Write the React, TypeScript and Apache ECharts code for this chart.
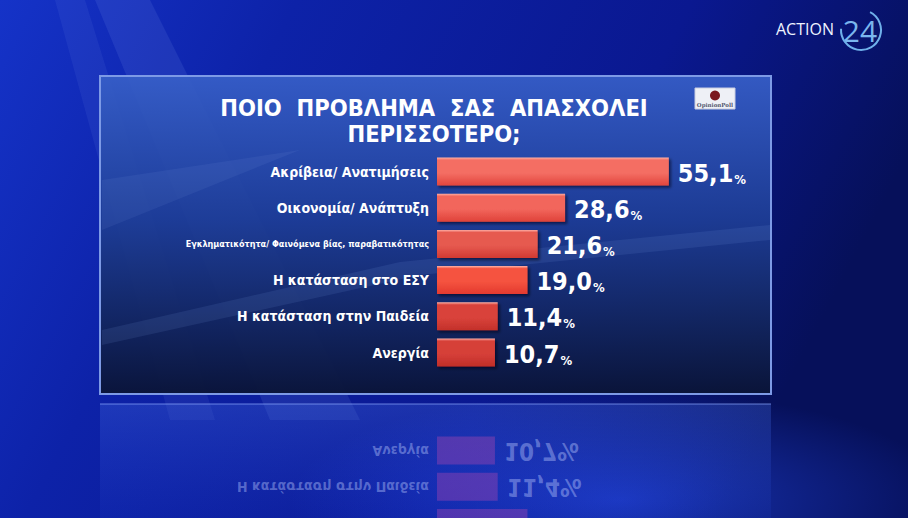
import React, { useEffect, useRef } from "react";
import * as echarts from "echarts";

// ---- data ----
const categories = [
  "Ακρίβεια/ Ανατιμήσεις",
  "Οικονομία/ Ανάπτυξη",
  "Εγκληματικότητα/ Φαινόμενα βίας, παραβατικότητας",
  "Η κατάσταση στο ΕΣΥ",
  "Η κατάσταση στην Παιδεία",
  "Ανεργία",
];
const values = [55.1, 28.6, 21.6, 19.0, 11.4, 10.7];
const titleLines = ["ΠΟΙΟ  ΠΡΟΒΛΗΜΑ  ΣΑΣ  ΑΠΑΣΧΟΛΕΙ", "ΠΕΡΙΣΣΟΤΕΡΟ;"];
const logoWords = ["ACTION", "24"];
const pollster = "OpinionPoll";

// ---- styles ----
const FF = "'DejaVu Sans Condensed', 'DejaVu Sans', sans-serif";
const barTopColors = ["#f46e64", "#f2665c", "#e65a50", "#f5533f", "#d9433b", "#d63f39"];
const barBottomColors = ["#e2463d", "#df4239", "#d23a32", "#e33a2f", "#c3302a", "#c02e28"];
const axisStart = -4.1;
const axisEnd = 60;
const barH = 28;
const mirrorY = 401.5;
const pageH = 518;

const fmt = (v: number) => v.toFixed(1).replace(".", ",");

function buildOption(): any {
  const barData = values.map((v, i) => ({
    value: v,
    itemStyle: {
      color: new echarts.graphic.LinearGradient(0, 0, 0, 1, [
        { offset: 0, color: "#ffb0a6" },
        { offset: 0.09, color: barTopColors[i] },
        { offset: 0.55, color: barTopColors[i] },
        { offset: 1, color: barBottomColors[i] },
      ]),
      shadowColor: "rgba(0,0,20,0.6)",
      shadowBlur: 3,
      shadowOffsetX: 2,
      shadowOffsetY: 2,
    },
  }));

  const graphic: any[] = [
    // light rays in the background (upper left)
    {
      type: "polygon",
      z: 0,
      shape: { points: [[95, 0], [150, 0], [360, 420], [270, 420]] },
      style: { fill: "rgba(170,200,255,0.10)" },
    },
    {
      type: "polygon",
      z: 0,
      shape: { points: [[55, 0], [85, 0], [215, 420], [170, 420]] },
      style: { fill: "rgba(170,200,255,0.07)" },
    },
    // bright glow low in the background
    {
      type: "ellipse",
      z: 0,
      shape: { cx: 620, cy: 500, rx: 330, ry: 110 },
      style: {
        fill: new echarts.graphic.RadialGradient(0.5, 0.5, 0.5, [
          { offset: 0, color: "rgba(40,80,255,0.55)" },
          { offset: 1, color: "rgba(40,80,255,0)" },
        ]),
      },
    },
    // main panel
    {
      type: "rect",
      z: 0,
      shape: { x: 100, y: 76, width: 671, height: 318 },
      style: {
        fill: new echarts.graphic.LinearGradient(0, 0, 0, 1, [
          { offset: 0, color: "rgba(55,95,200,0.92)" },
          { offset: 0.45, color: "rgba(30,62,150,0.92)" },
          { offset: 1, color: "rgba(10,20,55,0.96)" },
        ]),
        stroke: "#7d9ae6",
        lineWidth: 2,
      },
    },
    // swooshes on the panel
    {
      type: "polygon",
      z: 0,
      shape: { points: [[102, 330], [400, 262], [770, 225], [770, 240], [420, 275], [102, 345]] },
      style: { fill: "rgba(150,190,255,0.10)" },
    },
    {
      type: "polygon",
      z: 0,
      shape: { points: [[102, 180], [300, 150], [102, 230]] },
      style: { fill: "rgba(170,200,255,0.07)" },
    },
    // reflection of the panel
    {
      type: "rect",
      z: 0,
      shape: { x: 100, y: 404, width: 671, height: 114 },
      style: {
        fill: new echarts.graphic.LinearGradient(0, 0, 0, 1, [
          { offset: 0, color: "rgba(70,110,230,0.30)" },
          { offset: 1, color: "rgba(40,80,230,0.10)" },
        ]),
      },
    },
    {
      type: "line",
      z: 0,
      shape: { x1: 100, y1: 404, x2: 771, y2: 404 },
      style: { stroke: "rgba(140,170,255,0.35)", lineWidth: 2 },
    },
    // pollster logo
    {
      type: "rect",
      z: 10,
      shape: { x: 695, y: 88, width: 40, height: 21 },
      style: { fill: "#eef0f6", stroke: "#c8cde0", lineWidth: 1 },
    },
    {
      type: "circle",
      z: 11,
      shape: { cx: 715, cy: 95.5, r: 5 },
      style: { fill: "#7a1820" },
    },
    {
      type: "text",
      z: 11,
      x: 715,
      y: 105,
      style: {
        text: pollster,
        align: "center",
        verticalAlign: "middle",
        fill: "#555a70",
        font: "bold 5.5px 'DejaVu Serif', serif",
      },
    },
    // channel logo
    {
      type: "text",
      z: 10,
      x: 776,
      y: 29,
      style: {
        text: logoWords[0],
        align: "left",
        verticalAlign: "middle",
        fill: "#eef3ff",
        font: "16px 'Open Sans', 'DejaVu Sans', sans-serif",
      },
    },
    {
      type: "text",
      z: 10,
      x: 860,
      y: 30,
      style: {
        text: logoWords[1],
        align: "center",
        verticalAlign: "middle",
        fill: "#7ab6ee",
        font: "30px 'Open Sans', 'DejaVu Sans', sans-serif",
      },
    },
    {
      type: "arc",
      z: 10,
      shape: { cx: 861, cy: 30, r: 20, startAngle: -Math.PI * 0.35, endAngle: Math.PI * 1.02 },
      style: { stroke: "#6fb0ea", lineWidth: 2, fill: "none" },
    },
  ];

  return {
    animation: false,
    backgroundColor: new echarts.graphic.LinearGradient(0, 0, 1, 0.3, [
      { offset: 0, color: "#1533c8" },
      { offset: 0.3, color: "#0d22a8" },
      { offset: 0.7, color: "#0a1890" },
      { offset: 1, color: "#06105a" },
    ]),
    title: {
      text: titleLines.join("\n"),
      left: 429,
      top: 90,
      textAlign: "center",
      textStyle: {
        color: "#ffffff",
        fontFamily: FF,
        fontWeight: "bold",
        fontSize: 23.5,
        lineHeight: 26,
      },
    },
    graphic,
    grid: { left: 437, right: 220, top: 153.4, height: 217.2 },
    xAxis: {
      type: "value",
      min: axisStart,
      max: axisEnd,
      startValue: axisStart,
      show: false,
    },
    yAxis: {
      type: "category",
      inverse: true,
      data: categories,
      axisLine: { show: false },
      axisTick: { show: false },
      splitLine: { show: false },
      axisLabel: {
        margin: 8,
        color: "#ffffff",
        formatter: (v: string) => (v.length > 30 ? `{n|${v}}` : `{w|${v}}`),
        rich: {
          w: { fontFamily: FF, fontWeight: "bold", fontSize: 14, color: "#ffffff" },
          n: { fontFamily: FF, fontWeight: "bold", fontSize: 9, color: "#ffffff" },
        },
      },
    },
    series: [
      {
        type: "bar",
        data: barData,
        barWidth: barH,
        z: 3,
        label: {
          show: true,
          position: "right",
          distance: 9,
          formatter: (p: any) => `{v|${fmt(p.value)}}{p|%}`,
          rich: {
            v: {
              fontFamily: FF,
              fontWeight: "bold",
              fontSize: 25,
              color: "#ffffff",
              lineHeight: 28,
              verticalAlign: "bottom",
            },
            p: {
              fontFamily: FF,
              fontWeight: "bold",
              fontSize: 13,
              color: "#ffffff",
              lineHeight: 22,
              verticalAlign: "bottom",
              padding: [0, 0, 0, 1],
            },
          },
        },
      },
      {
        // reflection of the bars below the panel
        type: "custom",
        z: 1,
        silent: true,
        data: values.map((v, i) => [v, i]),
        encode: { x: 0, y: 1 },
        renderItem: (params: any, api: any) => {
          const idx = api.value(1);
          const v = api.value(0);
          const s = api.coord([axisStart, idx]);
          const e = api.coord([v, idx]);
          const my = 2 * mirrorY - s[1];
          if (my - barH / 2 >= pageH) return null;
          const children: any[] = [
            {
              type: "rect",
              shape: { x: s[0], y: my - barH / 2, width: e[0] - s[0], height: barH },
              style: { fill: "rgba(180,70,175,0.38)" },
            },
          ];
          if (my + 12 < pageH) {
            children.push(
              {
                type: "text",
                x: s[0] - 8,
                y: my,
                scaleY: -1,
                style: {
                  text: categories[idx],
                  align: "right",
                  verticalAlign: "middle",
                  fill: "rgba(185,200,255,0.42)",
                  font: `bold ${categories[idx].length > 30 ? 9 : 14}px ${FF}`,
                },
              },
              {
                type: "text",
                x: e[0] + 9,
                y: my,
                scaleY: -1,
                style: {
                  text: `${fmt(v)}%`,
                  align: "left",
                  verticalAlign: "middle",
                  fill: "rgba(185,200,255,0.42)",
                  font: `bold 24px ${FF}`,
                },
              }
            );
          }
          return { type: "group", children };
        },
      },
    ],
  };
}

export default function App() {
  const ref = useRef<HTMLDivElement>(null);
  useEffect(() => {
    if (!ref.current) return;
    const chart = echarts.init(ref.current, null, { renderer: "svg" });
    chart.setOption(buildOption());
    return () => chart.dispose();
  }, []);
  return (
    <div
      ref={ref}
      style={{ position: "fixed", left: 0, top: 0, width: 908, height: 518 }}
    />
  );
}
